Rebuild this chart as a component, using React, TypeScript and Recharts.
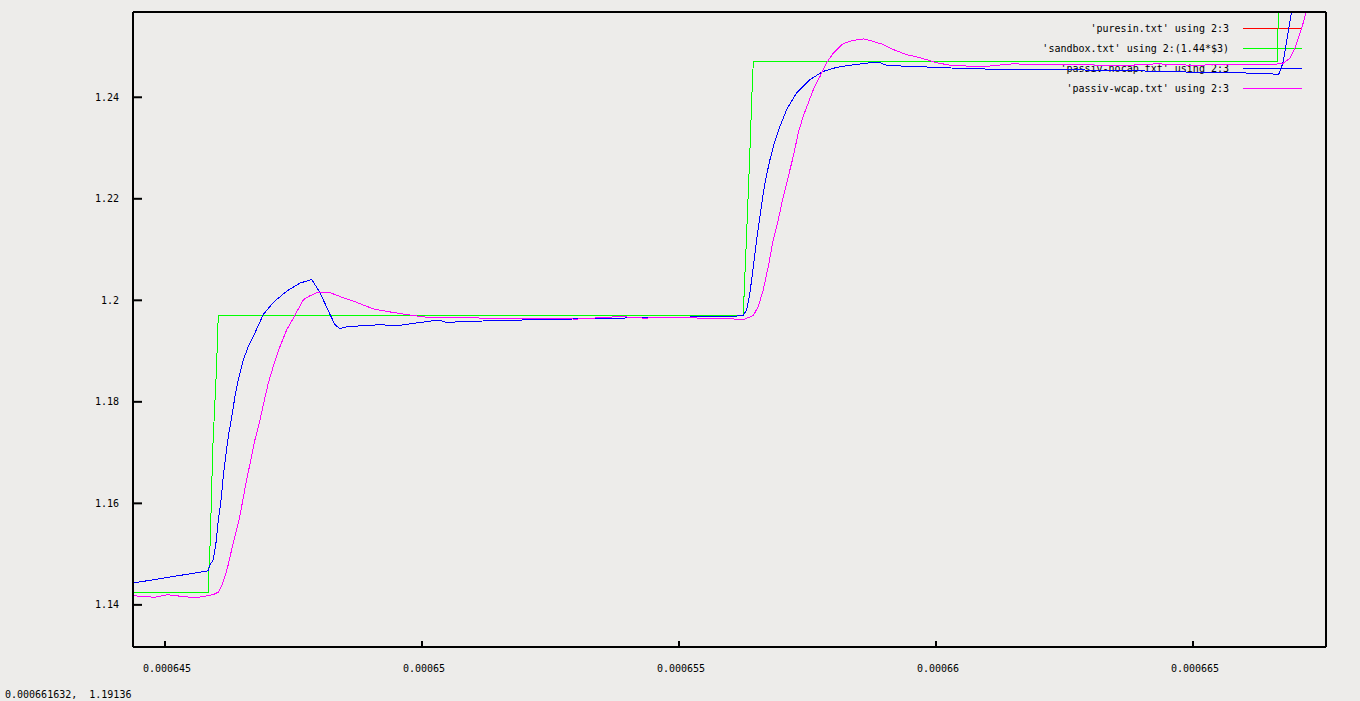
import React from 'react';
import { LineChart, Line, XAxis, YAxis, Legend } from 'recharts';

// Time is in microseconds (the axis labels show it in seconds), value in volts.
const puresin: [number, number][] = [
  [644.377, 0.7933], [645.837, 0.7933], [646.037, 0.8313], [656.251, 0.8313],
  [656.446, 0.866], [666.644, 0.866], [666.67, 0.8819],
];

const sandbox: [number, number][] = [
  [644.377, 1.1424], [645.837, 1.1424], [645.846, 1.145], [645.862, 1.1489],
  [645.881, 1.1528], [645.928, 1.1706], [645.973, 1.1804], [646.006, 1.1873],
  [646.018, 1.1923], [646.037, 1.1971], [656.251, 1.197], [656.27, 1.2021],
  [656.303, 1.21], [656.342, 1.2198], [656.381, 1.2297], [656.426, 1.2425],
  [656.446, 1.247], [666.644, 1.247], [666.66, 1.2569], [666.67, 1.27],
];

const nocap: [number, number][] = [
  [644.377, 1.1443], [645.837, 1.1467], [645.875, 1.1479], [645.94, 1.1489],
  [646.0, 1.1528], [646.037, 1.1568], [646.084, 1.1601], [646.134, 1.1653],
  [646.181, 1.1693], [646.232, 1.1732], [646.298, 1.1771], [646.362, 1.1811],
  [646.426, 1.1844], [646.523, 1.1883], [646.621, 1.1909], [646.751, 1.1936],
  [646.912, 1.1972], [647.107, 1.1996], [647.368, 1.2018], [647.626, 1.2034],
  [647.854, 1.2041], [648.016, 1.2015], [648.21, 1.1972], [648.307, 1.1952],
  [648.405, 1.1944], [648.535, 1.1948], [649.183, 1.1952], [649.508, 1.195],
  [650.156, 1.1959], [650.35, 1.1961], [650.481, 1.1956], [650.739, 1.1958],
  [651.095, 1.1959], [651.842, 1.1961], [652.815, 1.1963], [653.852, 1.1965],
  [655.15, 1.1967], [656.123, 1.1969], [656.251, 1.197], [656.317, 1.1982],
  [656.381, 1.2015], [656.446, 1.2067], [656.512, 1.212], [656.576, 1.2166],
  [656.64, 1.2212], [656.706, 1.2248], [656.77, 1.2277], [656.835, 1.2303],
  [656.965, 1.2343], [657.095, 1.2376], [657.29, 1.2409], [657.549, 1.2435],
  [657.807, 1.2451], [658.068, 1.2459], [658.391, 1.2464], [658.716, 1.2468],
  [658.911, 1.2468], [659.041, 1.2463], [659.43, 1.2461], [660.014, 1.2459],
  [660.661, 1.2456], [661.634, 1.2455], [663.58, 1.2453], [664.747, 1.245],
  [666.498, 1.2447], [666.66, 1.2444], [666.693, 1.2451], [666.757, 1.247],
  [666.823, 1.251], [666.887, 1.2549], [666.92, 1.2569], [666.98, 1.262],
];

const wcap: [number, number][] = [
  [644.377, 1.1418], [644.8, 1.1415], [645.05, 1.142], [645.3, 1.1417],
  [645.6, 1.1414], [645.934, 1.142], [646.037, 1.1425], [646.103, 1.1437],
  [646.167, 1.1456], [646.22, 1.1475], [646.327, 1.1522], [646.426, 1.1561],
  [646.491, 1.1594], [646.588, 1.1647], [646.686, 1.1693], [646.751, 1.1726],
  [646.835, 1.1758], [646.912, 1.1794], [647.01, 1.1837], [647.107, 1.187],
  [647.237, 1.1909], [647.368, 1.1942], [647.497, 1.1965], [647.691, 1.2001],
  [647.821, 1.2009], [647.951, 1.2015], [648.21, 1.2015], [648.47, 1.2005],
  [648.729, 1.1996], [649.052, 1.1983], [649.441, 1.1976], [649.831, 1.197],
  [650.156, 1.1966], [650.8, 1.1966], [651.5, 1.1964], [652.3, 1.1965],
  [653.0, 1.1963], [653.852, 1.1968], [654.3, 1.1965], [655.0, 1.1966],
  [655.8, 1.1964], [656.123, 1.1963], [656.251, 1.1962], [656.446, 1.197],
  [656.543, 1.1988], [656.64, 1.2021], [656.738, 1.2067], [656.835, 1.212],
  [656.932, 1.2159], [657.03, 1.2205], [657.127, 1.2244], [657.224, 1.2284],
  [657.321, 1.233], [657.418, 1.2363], [657.516, 1.2389], [657.613, 1.2415],
  [657.743, 1.2441], [657.872, 1.2468], [658.002, 1.2487], [658.197, 1.2506],
  [658.391, 1.2512], [658.586, 1.2515], [658.78, 1.251], [658.975, 1.2504],
  [659.17, 1.2494], [659.43, 1.2484], [659.689, 1.2478], [660.014, 1.2468],
  [660.338, 1.2462], [660.986, 1.2461], [661.5, 1.2466], [661.958, 1.2464],
  [662.607, 1.2465], [663.58, 1.2462], [664.3, 1.2466], [665.0, 1.2463],
  [665.8, 1.2465], [666.498, 1.2464], [666.757, 1.2467], [666.887, 1.2477],
  [666.984, 1.2497], [667.049, 1.2516], [667.115, 1.2536], [667.179, 1.2559],
  [667.25, 1.26],
];

const seriesNames = [
  "'puresin.txt' using 2:3",
  "'sandbox.txt' using 2:(1.44*$3)",
  "'passiv-nocap.txt' using 2:3",
  "'passiv-wcap.txt' using 2:3",
];
const seriesColors = ['#ff0000', '#00ff00', '#0000ff', '#ff00ff'];

const xDomain: [number, number] = [644.377, 667.588];
const xTicks = [645, 650, 655, 660, 665];
const xTickLabels = ['0.000645', '0.00065', '0.000655', '0.00066', '0.000665'];

const yDomain: [number, number] = [1.1317, 1.2568];
const yTicks = [1.14, 1.16, 1.18, 1.2, 1.22, 1.24];
const yTickLabels = ['1.14', '1.16', '1.18', '1.2', '1.22', '1.24'];

const statusText = '0.000661632,  1.19136';

const FONT = "'DejaVu Sans Mono', monospace";
const BG = '#edecea';

const toRows = (pts: [number, number][]) => pts.map(([t, v]) => ({ t, v }));
const seriesData = [puresin, sandbox, nocap, wcap].map(toRows);

const fmtX = (v: number) => {
  const i = xTicks.indexOf(v);
  return i >= 0 ? xTickLabels[i] : '';
};
const fmtY = (v: number) => {
  const i = yTicks.indexOf(v);
  return i >= 0 ? yTickLabels[i] : '';
};

const KeyBox = (props: any) => {
  const items = [...(props.payload || [])].sort(
    (a: any, b: any) => seriesNames.indexOf(a.value) - seriesNames.indexOf(b.value)
  );
  return (
    <div style={{ fontFamily: FONT, fontSize: 10, color: '#000' }}>
      {items.map((it: any) => (
        <div
          key={it.value}
          style={{ display: 'flex', justifyContent: 'flex-end', alignItems: 'center', height: 20 }}
        >
          <span style={{ whiteSpace: 'pre' }}>{it.value}</span>
          <span
            style={{
              display: 'inline-block',
              width: 59,
              height: 0,
              borderTop: `1px solid ${it.color}`,
              marginLeft: 14,
            }}
          />
        </div>
      ))}
    </div>
  );
};

const axisLineStyle = { stroke: '#000', strokeWidth: 2 };
const tickStyle = { fill: '#000', fontSize: 10, fontFamily: FONT };

export default function App() {
  return (
    <div
      style={{
        position: 'absolute',
        left: 0,
        top: 0,
        width: 1360,
        height: 701,
        background: BG,
        zIndex: 0,
        overflow: 'hidden',
      }}
    >
      <LineChart
        width={1360}
        height={701}
        margin={{ top: 11, right: 33, bottom: 24, left: 73 }}
      >
        <XAxis
          dataKey="t"
          type="number"
          domain={xDomain}
          allowDataOverflow
          ticks={xTicks}
          tickFormatter={fmtX}
          height={30}
          tickSize={-6}
          tickMargin={24}
          axisLine={axisLineStyle}
          tickLine={axisLineStyle}
          tick={{ ...tickStyle, dx: 2 }}
        />
        <XAxis
          xAxisId="top"
          orientation="top"
          type="number"
          domain={xDomain}
          allowDataOverflow
          ticks={xTicks}
          height={1}
          tickSize={-6}
          axisLine={axisLineStyle}
          tickLine={axisLineStyle}
          tick={false}
        />
        <YAxis
          dataKey="v"
          type="number"
          domain={yDomain}
          allowDataOverflow
          ticks={yTicks}
          tickFormatter={fmtY}
          width={60}
          tickSize={-9}
          tickMargin={23}
          axisLine={axisLineStyle}
          tickLine={axisLineStyle}
          tick={tickStyle}
        />
        <YAxis
          yAxisId="right"
          orientation="right"
          type="number"
          domain={yDomain}
          allowDataOverflow
          ticks={yTicks}
          width={1}
          tickSize={-9}
          axisLine={axisLineStyle}
          tickLine={axisLineStyle}
          tick={false}
        />
        <Legend
          layout="vertical"
          align="center"
          verticalAlign="middle"
          width={300}
          content={KeyBox}
          wrapperStyle={{ left: 1002, top: 18, width: 300, zIndex: -1 }}
        />
        {seriesData.map((rows, i) => (
          <Line
            key={seriesNames[i]}
            data={rows}
            dataKey="v"
            name={seriesNames[i]}
            type="linear"
            stroke={seriesColors[i]}
            strokeWidth={1}
            dot={false}
            activeDot={false}
            isAnimationActive={false}
            shapeRendering="crispEdges"
          />
        ))}
      </LineChart>
      <div
        style={{
          position: 'absolute',
          left: 5,
          top: 689,
          fontFamily: FONT,
          fontSize: 10,
          lineHeight: '12px',
          whiteSpace: 'pre',
          color: '#000',
        }}
      >
        {statusText}
      </div>
    </div>
  );
}
